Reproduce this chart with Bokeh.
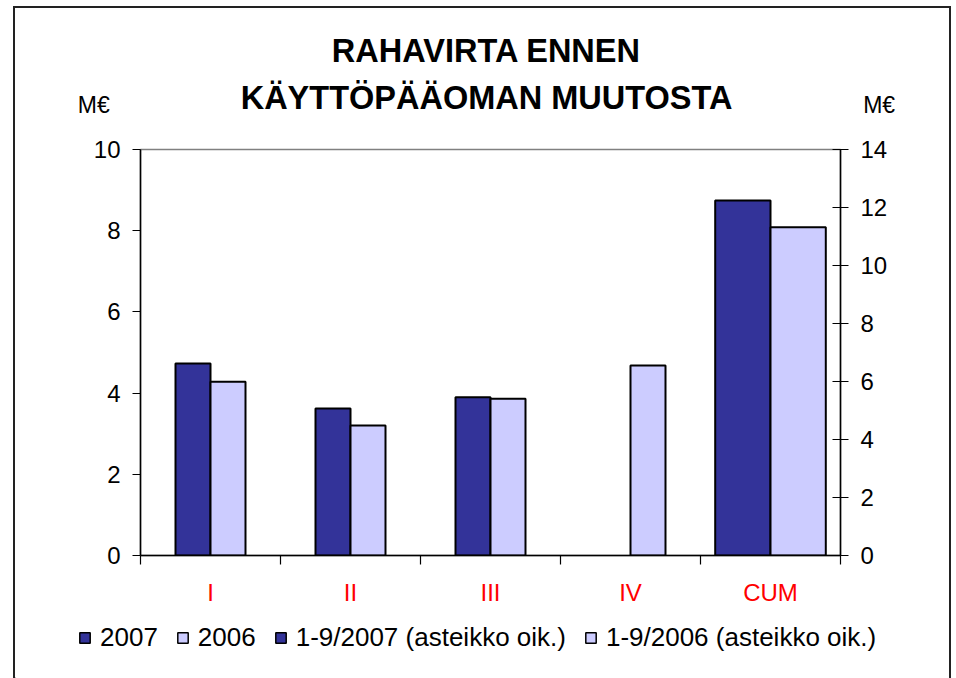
from bokeh.plotting import figure
from bokeh.layouts import column
from bokeh.models import (Range1d, LinearAxis, FixedTicker, Legend, LegendItem,
                          ColumnDataSource)
from bokeh.core.properties import value
from bokeh.transform import dodge
from bokeh.embed import file_html
from bokeh.resources import INLINE

# ---- data ----
cats = ["I", "II", "III", "IV", "CUM"]
quarters = ["I", "II", "III", "IV"]
q2007 = [4.73, 3.62, 3.90, float("nan")]
q2006 = [4.28, 3.20, 3.86, 4.68]
cum_cats = ["CUM"]
cum2007 = [12.24]
cum2006 = [11.32]
left_ticks = [0, 2, 4, 6, 8, 10]
right_ticks = [0, 2, 4, 6, 8, 10, 12, 14]
series_names = ["2007", "2006", "1-9/2007 (asteikko oik.)", "1-9/2006 (asteikko oik.)"]
title_lines = ["RAHAVIRTA ENNEN", "KÄYTTÖPÄÄOMAN MUUTOSTA"]
unit_label = "M€"

# ---- style ----
DARK = "#333399"
LIGHT = "#CCCCFF"
COLORS = [DARK, LIGHT, DARK, LIGHT]
FONT = "Liberation Sans"
FRAME = "2px solid #222222"
W = 934
HDR_H = 121
MAIN_H = 486
FTR_H = 63


def no_align(fig):
    if "frame_align" in fig.properties():
        fig.frame_align = False


# ---- header strip (title + units) ----
hdr = figure(width=W, height=HDR_H, x_range=Range1d(0, W), y_range=Range1d(HDR_H, 0),
             x_axis_type=None, y_axis_type=None, output_backend="svg", toolbar_location=None,
             min_border=0)
hdr.outline_line_color = None
hdr.grid.visible = False
hdr.styles = {"border-left": FRAME, "border-top": FRAME, "border-right": FRAME,
              "box-sizing": "content-box"}
no_align(hdr)
hdr.text(x=[469, 469], y=[42, 88], text=title_lines, text_align="center",
         text_baseline="middle", text_font=value(FONT), text_font_style="bold",
         text_font_size="32.5px", text_color="black")
hdr.text(x=[78, 860], y=[95, 95], text=[unit_label, unit_label], text_align="center",
         text_baseline="middle", text_font=value(FONT), text_font_size="23px",
         text_color="black")

# ---- main chart ----
pos = {c: i + 0.5 for i, c in enumerate(cats)}
q_src = ColumnDataSource(dict(x=[pos[c] for c in quarters], y07=q2007, y06=q2006))
c_src = ColumnDataSource(dict(x=[pos[c] for c in cum_cats], y07=cum2007, y06=cum2006))

p = figure(width=W, height=MAIN_H, x_range=Range1d(0, len(cats)), y_range=Range1d(0, 10),
           output_backend="svg", toolbar_location=None,
           min_border_left=125, min_border_right=113, min_border_top=20, min_border_bottom=60)
p.extra_y_ranges = {"right": Range1d(0, 14)}
p.xgrid.visible = False
p.ygrid.visible = False
p.outline_line_color = "#808080"
p.outline_line_width = 1.5
p.styles = {"border-left": FRAME, "border-right": FRAME, "box-sizing": "content-box"}
no_align(p)

# x axis (ticks on category boundaries, labels at centres)
xa = p.xaxis[0]
xa.ticker = FixedTicker(ticks=[pos[c] for c in cats], minor_ticks=list(range(len(cats) + 1)))
xa.major_label_overrides = {pos[c]: c for c in cats}
xa.axis_line_color = "black"
xa.axis_line_width = 1.5
xa.major_tick_out = 0
xa.major_tick_in = 0
xa.minor_tick_out = 9
xa.minor_tick_in = 0
xa.minor_tick_line_color = "black"
xa.minor_tick_line_width = 1.2
xa.major_label_text_color = "#FF0000"
xa.major_label_text_font = FONT
xa.major_label_text_font_size = "24px"
xa.major_label_standoff = 14

# left axis
ya = p.yaxis[0]
ya.ticker = FixedTicker(ticks=left_ticks, minor_ticks=[])
ya.axis_line_color = "black"
ya.axis_line_width = 1.5
ya.major_tick_out = 8
ya.major_tick_in = 0
ya.major_tick_line_color = "black"
ya.major_tick_line_width = 1.2
ya.minor_tick_line_color = None
ya.major_label_text_font = FONT
ya.major_label_text_font_size = "24px"
ya.major_label_text_color = "black"
ya.major_label_standoff = 12

# right axis
ra = LinearAxis(y_range_name="right", ticker=FixedTicker(ticks=right_ticks, minor_ticks=[]))
ra.axis_line_color = "black"
ra.axis_line_width = 1.5
ra.major_tick_out = 8
ra.major_tick_in = 8
ra.major_tick_line_color = "black"
ra.major_tick_line_width = 1.2
ra.minor_tick_line_color = None
ra.major_label_text_font = FONT
ra.major_label_text_font_size = "24px"
ra.major_label_text_color = "black"
ra.major_label_standoff = 12
p.add_layout(ra, "right")

# bars
bw = 0.25
cw = 0.395
p.vbar(x=dodge("x", -bw / 2), top="y07", width=bw, source=q_src,
       fill_color=DARK, line_color="black", line_width=2)
p.vbar(x=dodge("x", bw / 2), top="y06", width=bw, source=q_src,
       fill_color=LIGHT, line_color="black", line_width=2)
p.vbar(x=dodge("x", -cw / 2), top="y07", width=cw, source=c_src, y_range_name="right",
       fill_color=DARK, line_color="black", line_width=2)
p.vbar(x=dodge("x", cw / 2), top="y06", width=cw, source=c_src, y_range_name="right",
       fill_color=LIGHT, line_color="black", line_width=2)

# ---- footer strip with the legend ----
ftr = figure(width=W, height=FTR_H, x_range=Range1d(0, W), y_range=Range1d(0, FTR_H),
             x_axis_type=None, y_axis_type=None, output_backend="svg", toolbar_location=None,
             min_border=0)
ftr.outline_line_color = None
ftr.grid.visible = False
ftr.styles = {"border-left": FRAME, "border-right": FRAME, "box-sizing": "content-box"}
no_align(ftr)
items = []
for name, col in zip(series_names, COLORS):
    # legend-only proxy renderer, kept outside the visible range
    r = ftr.vbar(x=[-100], top=[0], bottom=[0], width=1, fill_color=col,
                 line_color="black", line_width=1.5)
    items.append(LegendItem(label=name, renderers=[r]))
legend = Legend(items=items, orientation="horizontal", location=(63, 25),
                glyph_width=13, glyph_height=13, label_standoff=9, spacing=18,
                padding=0, margin=0, border_line_color=None, background_fill_alpha=0,
                label_text_font=FONT, label_text_font_size="26px", label_text_color="black")
ftr.add_layout(legend)

layout = column(hdr, p, ftr, spacing=0, styles={"margin-left": "13px", "margin-top": "6px"})

open("out.html", "w").write(file_html(layout, INLINE))
